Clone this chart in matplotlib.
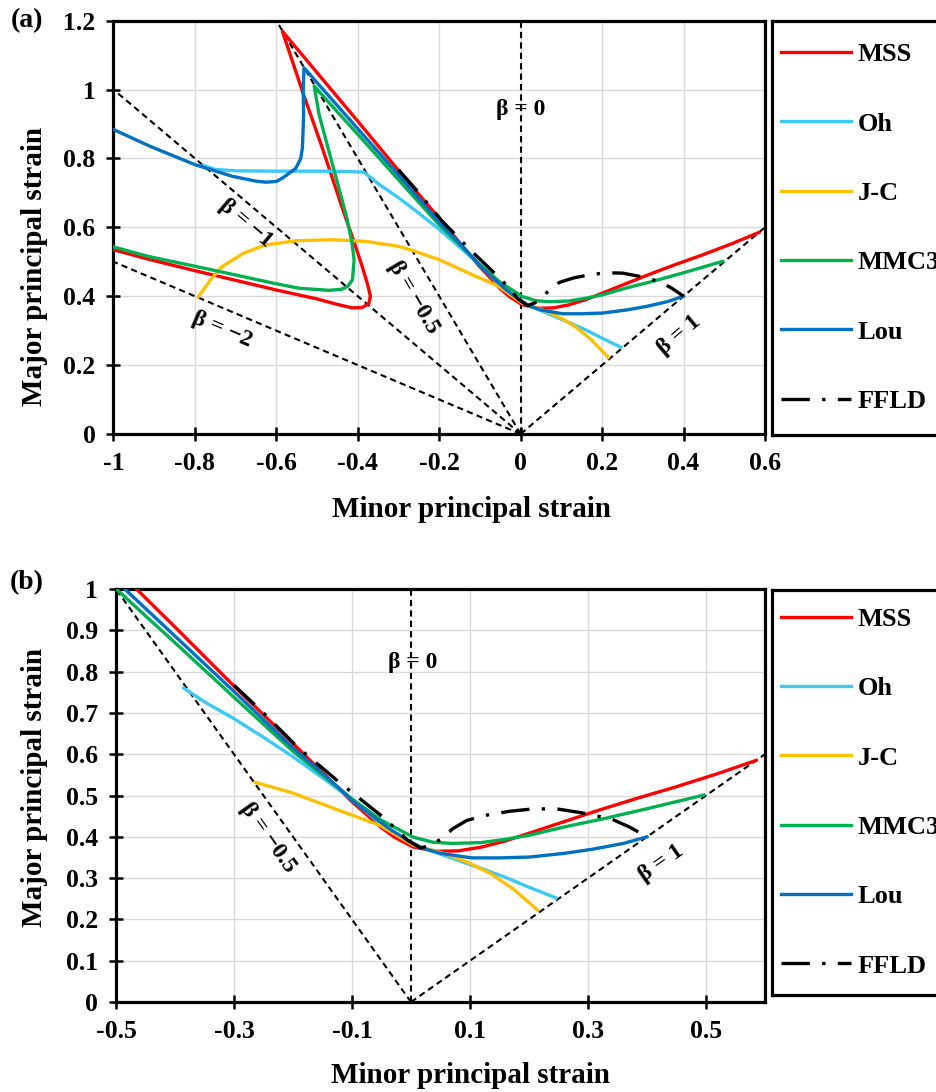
import numpy as np
import matplotlib
matplotlib.use("Agg")
import matplotlib.pyplot as plt
from matplotlib.ticker import FuncFormatter

plt.rcParams['font.family'] = ['Liberation Serif', 'DejaVu Serif']
plt.rcParams['font.weight'] = 'bold'
plt.rcParams['axes.labelweight'] = 'bold'
plt.rcParams['axes.unicode_minus'] = False

# forming limit curves (minor strain, major strain)
mss_x = [-1.0, -0.913, -0.8, -0.7, -0.6, -0.5, -0.45, -0.413, -0.39, -0.373, -0.369,
         -0.375, -0.389, -0.41, -0.438, -0.487, -0.536, -0.56, -0.585,
         -0.5, -0.4, -0.3, -0.2, -0.1, -0.05, -0.028, 0.004, 0.045, 0.08, 0.119,
         0.16, 0.201, 0.26, 0.324, 0.385, 0.447, 0.52, 0.585]
mss_y = [0.535, 0.507, 0.474, 0.446, 0.418, 0.392, 0.376, 0.366, 0.367, 0.378, 0.40,
         0.43, 0.486, 0.56, 0.656, 0.83, 0.995, 1.08, 1.169,
         1.049, 0.908, 0.765, 0.626, 0.485, 0.422, 0.399, 0.375, 0.365, 0.366, 0.375,
         0.39, 0.409, 0.437, 0.467, 0.494, 0.52, 0.553, 0.585]

oh_x = [-0.78, -0.75, -0.7, -0.6, -0.5, -0.42, -0.385, -0.348, -0.3, -0.25, -0.2,
        -0.15, -0.1, -0.05, -0.028, 0.0, 0.03, 0.078, 0.12, 0.16, 0.2, 0.246]
oh_y = [0.78, 0.768, 0.764, 0.763, 0.763, 0.762, 0.76, 0.725, 0.686, 0.641, 0.594,
        0.543, 0.49, 0.43, 0.409, 0.387, 0.368, 0.344, 0.323, 0.302, 0.278, 0.252]

jc_x = [-0.792, -0.76, -0.733, -0.68, -0.626, -0.55, -0.462, -0.38, -0.3, -0.264,
        -0.2, -0.118, -0.053, 0.004, 0.062, 0.1, 0.136, 0.175, 0.215]
jc_y = [0.398, 0.45, 0.486, 0.525, 0.549, 0.561, 0.564, 0.559, 0.545, 0.532,
        0.506, 0.462, 0.428, 0.38, 0.357, 0.336, 0.31, 0.272, 0.222]

mmc3_x = [-1.0, -0.913, -0.8, -0.667, -0.6, -0.544, -0.471, -0.44, -0.425, -0.413,
          -0.409, -0.415, -0.429, -0.462, -0.495, -0.507,
          -0.45, -0.4, -0.3, -0.2, -0.1, -0.05, 0.004, 0.037, 0.07, 0.119, 0.16,
          0.201, 0.26, 0.324, 0.4, 0.496]
mmc3_y = [0.543, 0.515, 0.487, 0.453, 0.436, 0.423, 0.417, 0.42, 0.428, 0.448,
          0.506, 0.56, 0.637, 0.782, 0.927, 1.01,
          0.935, 0.87, 0.738, 0.607, 0.492, 0.44, 0.399, 0.387, 0.384, 0.386, 0.394,
          0.404, 0.424, 0.443, 0.468, 0.501]

lou_x = [-1.0, -0.91, -0.8, -0.708, -0.65, -0.626, -0.6, -0.585, -0.565, -0.552,
         -0.54, -0.536, -0.533, -0.534, -0.532,
         -0.5, -0.4, -0.3, -0.2, -0.135, -0.1, -0.036, 0.013, 0.05, 0.103, 0.15,
         0.201, 0.26, 0.308, 0.36, 0.4]
lou_y = [0.884, 0.835, 0.782, 0.748, 0.734, 0.731, 0.733, 0.743, 0.76, 0.772,
         0.80, 0.831, 0.927, 1.0, 1.063,
         1.02, 0.886, 0.752, 0.615, 0.535, 0.488, 0.419, 0.375, 0.36, 0.349, 0.349,
         0.351, 0.36, 0.37, 0.384, 0.40]

ffld_x = [-0.3, -0.25, -0.193, -0.119, -0.045, -0.006, 0.017, 0.034, 0.057, 0.07,
          0.095, 0.13, 0.168, 0.21, 0.25, 0.29, 0.34, 0.37, 0.4]
ffld_y = [0.767, 0.70, 0.618, 0.529, 0.445, 0.392, 0.373, 0.38, 0.40, 0.419,
          0.44, 0.453, 0.462, 0.468, 0.467, 0.458, 0.443, 0.424, 0.40]

names = ['MSS', 'Oh', 'J-C', 'MMC3', 'Lou', 'FFLD']
curves_x = [mss_x, oh_x, jc_x, mmc3_x, lou_x, ffld_x]
curves_y = [mss_y, oh_y, jc_y, mmc3_y, lou_y, ffld_y]
colors = ['#FF0000', '#3DC9F5', '#FFC000', '#00B050', '#0070C0', 'black']

betas_a = [-2, -1, -0.5, 0, 1]
betas_b = [-0.5, 0, 1]


def fmt(v, pos):
    return '%g' % (round(v, 2) + 0.0)


def beta_lines(ax, betas):
    x0, x1 = ax.get_xlim()
    ytop = ax.get_ylim()[1]
    for b in betas:
        if b == 0:
            xs, ys = [0, 0], [0, ytop]
        elif b < 0:
            xe = max(x0, b * ytop)
            xs, ys = [0, xe], [0, xe / b]
        else:
            xe = min(x1, b * ytop)
            xs, ys = [0, xe], [0, xe / b]
        ax.plot(xs, ys, color='black', lw=1.5, ls=(0, (3, 2)), zorder=2)


def style_axes(ax, xticks, yticks):
    ax.set_xticks(xticks)
    ax.set_yticks(yticks)
    ax.xaxis.set_major_formatter(FuncFormatter(fmt))
    ax.yaxis.set_major_formatter(FuncFormatter(fmt))
    ax.grid(True, color='#d9d9d9', lw=1)
    ax.set_axisbelow(True)
    for s in ax.spines.values():
        s.set_linewidth(2.3)
        s.set_color('black')
    ax.tick_params(direction='inout', length=10, width=1.8, labelsize=18.5, pad=8,
                   top=False, right=False)
    ax.set_xlabel('Minor principal strain', fontsize=21, fontweight='bold')
    ax.set_ylabel('Major principal strain', fontsize=21, fontweight='bold')


def legend_box(rect, handles):
    lax = fig.add_axes(rect)
    lax.set_xticks([])
    lax.set_yticks([])
    for s in lax.spines.values():
        s.set_linewidth(2.3)
    lax.legend(handles, names, loc='center left', bbox_to_anchor=(0, 0.5),
               frameon=False, fontsize=19, handlelength=2.65, handletextpad=0.25,
               labelspacing=1.74, borderaxespad=0, borderpad=0.35)


fig = plt.figure(figsize=(9.37, 10.92), dpi=100)

# ---- panel (a)
ax = fig.add_axes([0.1211, 0.6026, 0.6953, 0.3785])
ax.set_xlim(-1, 0.6)
ax.set_ylim(0, 1.2)
beta_lines(ax, betas_a)
handles = []
for x, y, c, n in zip(curves_x, curves_y, colors, names):
    ls = (0, (8.5, 3.7, 1, 3.7)) if n == 'FFLD' else '-'
    h, = ax.plot(x, y, color=c, lw=2.4, ls=ls, zorder=3)
    handles.append(h)
style_axes(ax, np.arange(-1, 0.61, 0.2), np.arange(0, 1.21, 0.2))
ax.xaxis.set_label_coords(0.549, -0.15)
ax.yaxis.set_label_coords(-0.10, 0.406)

tkw = dict(ha='center', va='center', rotation_mode='anchor',
           transform_rotates_text=True, fontsize=17)
ax.text(0.0, 0.942, 'β = 0', ha='center', va='center', fontsize=17)
ax.text(-0.675, 0.612, 'β = −1', rotation=np.degrees(np.arctan2(-1, 1)), **tkw)
ax.text(-0.734, 0.302, 'β = −2', rotation=np.degrees(np.arctan2(-0.5, 1)), **tkw)
ax.text(-0.262, 0.398, 'β = −0.5', rotation=np.degrees(np.arctan2(-2, 1)), **tkw)
ax.text(0.389, 0.288, 'β = 1', rotation=np.degrees(np.arctan2(1, 1)), **tkw)

legend_box([0.8239, 0.6016, 0.25, 0.3794], handles)
fig.text(27 / 937, 1 - 21 / 1092, '(a)', ha='center', va='center', fontsize=20)

# ---- panel (b): same curves, part right of the beta = -0.5 path
ax = fig.add_axes([0.1238, 0.0824, 0.6926, 0.3782])
ax.set_xlim(-0.5, 0.6)
ax.set_ylim(0, 1.0)
beta_lines(ax, betas_b)
for x, y, c, n in zip(curves_x, curves_y, colors, names):
    x = np.array(x)
    y = np.array(y, dtype=float)
    y = np.where(y >= -2 * x - 0.015, y, np.nan)
    ls = (0, (8.5, 3.7, 1, 3.7)) if n == 'FFLD' else '-'
    ax.plot(x, y, color=c, lw=2.4, ls=ls, zorder=3)
style_axes(ax, np.arange(-0.5, 0.51, 0.2), np.arange(0, 1.01, 0.1))
ax.xaxis.set_label_coords(0.547, -0.145)
ax.yaxis.set_label_coords(-0.105, 0.52)

ax.text(0.003, 0.821, 'β = 0', ha='center', va='center', fontsize=17)
ax.text(-0.243, 0.397, 'β = −0.5', rotation=np.degrees(np.arctan2(-2, 1)), **tkw)
ax.text(0.425, 0.336, 'β = 1', rotation=np.degrees(np.arctan2(1, 1)), **tkw)

legend_box([0.8239, 0.0888, 0.25, 0.3709], handles)
fig.text(27 / 937, 1 - 583 / 1092, '(b)', ha='center', va='center', fontsize=20)

fig.savefig('out.png', dpi=100)
